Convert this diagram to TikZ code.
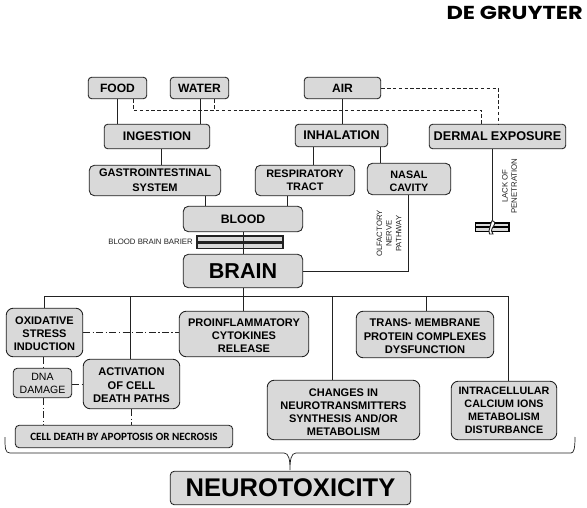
\documentclass[tikz,border=0pt]{standalone}
\usepackage{fontspec}
\setmainfont{Liberation Sans}
\newfontfamily\calib{Carlito}
\newfontfamily\logofont[FakeStretch=1.2]{Poppins}
\usetikzlibrary{calc}
\definecolor{boxfill}{HTML}{D9D9D9}
\definecolor{ink}{HTML}{222222}
\def\boxr{3pt}
\newcommand{\bx}[6][9.2]{\node[boxn,minimum width=#4*0.03cm-0.4pt,minimum height=#5*0.03cm-0.4pt,font={\fontsize{#1}{\the\dimexpr #1pt*120/100\relax}\selectfont\bfseries}] (#2) at (#3) {#6};}
\tikzset{
  boxn/.style={draw=ink,line width=0.75pt,fill=boxfill,rounded corners=\boxr,align=center,inner sep=0pt,text=black},
  link/.style={draw=ink,line width=0.75pt},
  dashlink/.style={draw=ink,line width=0.7pt,dash pattern=on 3pt off 2pt},
  dotlink/.style={draw=ink,line width=0.6pt,dash pattern=on 6pt off 2pt on 1.2pt off 2pt},
  thin label/.style={text=ink,align=center,inner sep=0pt}
}
\begin{document}
\begin{tikzpicture}[x=0.03cm,y=-0.03cm]
\useasboundingbox (0,0) rectangle (587,508);
\bx[10.3]{food}{117.5,88}{59}{22}{FOOD}
\bx[10.3]{water}{199.5,88}{59}{22}{WATER}
\bx[10.3]{air}{342.5,88}{77}{22}{AIR}
\bx[10.6]{ingest}{157,136.5}{106}{25}{INGESTION}
\bx[10.7]{inhal}{341.5,135.5}{93}{23}{INHALATION}
\bx[10.8]{dermal}{497.5,136.5}{137}{25}{DERMAL\hspace{0.25em}EXPOSURE}
\def\boxr{4.5pt}
\bx[9.4]{gi}{155,180.5}{132}{31}{GASTROINTESTINAL\\[1.2pt]SYSTEM}
\bx[9.3]{resp}{305,180.5}{100}{31}{RESPIRATORY\\TRACT}
\bx[9.2]{nasal}{409,179}{84}{32}{\rule{0pt}{10pt}NASAL\\CAVITY}
\bx[10.5]{blood}{243,219}{120}{26}{\raisebox{-2pt}{BLOOD}}
\bx[18.4]{brain}{243,271}{120}{34}{BRAIN}
\def\boxr{6pt}
\bx[9.4]{oxid}{44.5,332.5}{77}{49}{\rule{0pt}{9pt}OXIDATIVE\\STRESS\\INDUCTION}
\bx[9.4]{proinf}{244,334}{130}{46}{\rule{0pt}{9pt}PROINFLAMMATORY\\CYTOKINES\\RELEASE}
\bx[9.5]{activ}{131.5,384}{97}{50}{\rule{0pt}{9pt}ACTIVATION\\OF CELL\\DEATH PATHS}
\def\boxr{3.5pt}
\node[boxn,minimum width=59*0.03cm-0.4pt,minimum height=30*0.03cm-0.4pt,font={\fontsize{9}{11.2}\selectfont}] (dna) at (42.5,383) {DNA\\DAMAGE};
\node[boxn,minimum width=218*0.03cm-0.4pt,minimum height=23*0.03cm-0.4pt,font={\calib\fontsize{9.5}{11}\selectfont\bfseries}] (cell) at (124,436.5) {CELL DEATH BY APOPTOSIS OR NECROSIS};
\def\boxr{6pt}
\bx[9.5]{trans}{425,334.5}{138}{47}{\rule{0pt}{9.5pt}TRANS- MEMBRANE\\PROTEIN COMPLEXES\\DYSFUNCTION}
\bx[9.4]{chang}{343.5,410}{153}{60}{\rule{0pt}{10.5pt}CHANGES IN\\NEUROTRANSMITTERS\\SYNTHESIS AND/OR\\METABOLISM}
\bx[9.2]{intra}{504,410.5}{106}{59}{INTRACELLULAR\\CALCIUM IONS\\METABOLISM\\DISTURBANCE}
\def\boxr{3.5pt}
\bx[21.8]{neuro}{290.5,488}{241}{34}{NEUROTOXICITY}
% solid connectors
\draw[link] (food.south -| 117,0) -- (ingest.north -| 117,0);
\draw[link] (water.south -| 200,0) -- (ingest.north -| 200,0);
\draw[link] (air.south -| 342,0) -- (inhal.north -| 342,0);
\draw[link] (ingest.south -| 161,0) -- (gi.north -| 161,0);
\draw[link] (inhal.south -| 313,0) -- (resp.north -| 313,0);
\draw[link] (inhal.south -| 380,0) -- (nasal.north -| 380,0);
\draw[link] (gi.south -| 205,0) -- (blood.north -| 205,0);
\draw[link] (resp.south -| 287,0) -- (blood.north -| 287,0);
\draw[link] (blood.south -| 243,0) -- (brain.north -| 243,0);
\draw[link] (nasal.south -| 408,0) -- (408,271) -- (brain.east |- 0,271);
% dashed connectors
\draw[dashlink] (food.south -| 133,0) -- (133,110) -- (481,110) -- (dermal.north -| 481,0);
\draw[dashlink] (water.south -| 214,0) -- (214,110);
\draw[dashlink] (air.east |- 0,88) -- (498,88) -- (dermal.north -| 498,0);
% barrier
\foreach \yy in {236,243}{\draw[draw=ink,line width=0.9pt,fill=boxfill] (197,\yy) rectangle (283,\yy+5.5);}
\draw[link] (243,236) -- (243,248.5);
\node[thin label,anchor=east,font={\fontsize{6.65}{8}\selectfont}] (bbb) at (193,242) {BLOOD BRAIN BARIER};
% dermal barrier
\coordinate (stop) at (492,222);
\draw[link] (dermal.south -| 492,0) -- (stop);
\draw[draw=black,line width=0.9pt,fill=boxfill] (475.5,223) rectangle (509,227);
\draw[draw=black,line width=0.9pt,fill=boxfill] (475.5,227) rectangle (509,231.5);
\draw[link,fill=white] (492,220.5) .. controls (496,222) and (495,224) .. (493,227) .. controls (491,230) and (491,232) .. (493,234) -- (489.5,234) .. controls (488.5,232) and (489,230) .. (490,227) .. controls (491,224) and (491,222) .. (492,220.5);
\node[thin label,rotate=90,font={\fontsize{6.7}{7.9}\selectfont}] (lack) at (509.5,186) {LACK OF\\PENETRATION};
\node[thin label,rotate=90,font={\fontsize{6.6}{8.2}\selectfont}] (olf) at (389,233.5) {OLFACTORY\\NERVE\\PATHWAY};
% bus under brain
\coordinate (busL) at (44,296);
\coordinate (busR) at (508,296);
\draw[link] (brain.south) -- (brain.south |- busL);
\draw[link] (oxid.north -| busL) -- (busL) -- (busR) -- (intra.north -| busR);
\draw[link] (130,296) -- (activ.north -| 130,0);
\draw[link] (243,296) -- (proinf.north -| 243,0);
\draw[link] (332,296) -- (chang.north -| 332,0);
\draw[link] (426,296) -- (trans.north -| 426,0);
% dash-dot connectors
\draw[dotlink] (oxid.east |- 0,332) -- (proinf.west |- 0,332);
\draw[dotlink] (oxid.south -| 43,0) -- (dna.north -| 43,0);
\draw[dotlink] (dna.south -| 43,0) -- (cell.north -| 43,0);
\draw[dotlink] (dna.east |- 0,384) -- (activ.west |- 0,384);
\draw[dotlink] (activ.south -| 131,0) -- (cell.north -| 131,0);
% brace
\draw[link,line width=0.6pt] (5,437) .. controls (5,448) and (5,453) .. (10,453) -- (284,453) .. controls (289,453) and (290,460) .. (290,470) .. controls (290,460) and (291,453) .. (296,453) -- (571,453) .. controls (574,453) and (575,448) .. (575,437);
\node[inner sep=0pt,anchor=east,font={\logofont\fontsize{16}{18}\selectfont\bfseries}] (logo) at (583,13) {DE GRUYTER};
\end{tikzpicture}
\end{document}
